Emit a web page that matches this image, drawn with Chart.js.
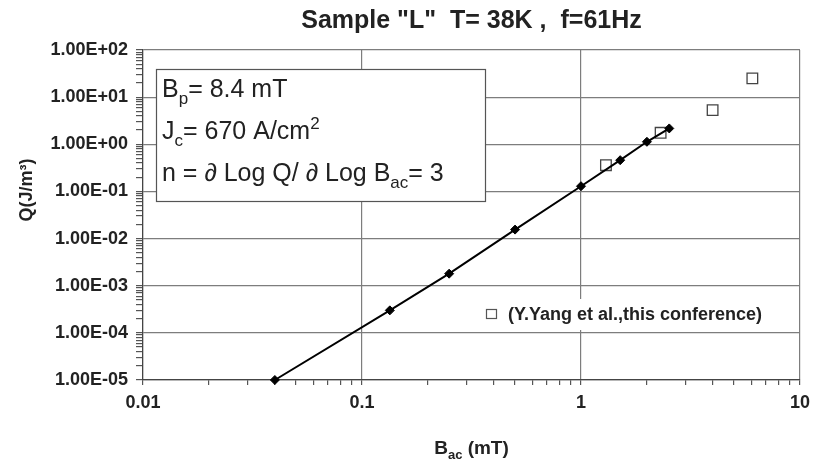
<!DOCTYPE html>
<html>
<head>
<meta charset="utf-8">
<script src="https://cdn.jsdelivr.net/npm/chart.js"></script>
<style>
  body { margin: 0; background: #fff; }
</style>
</head>
<body>
<canvas id="qChart" width="817" height="468"></canvas>
<script>
// measured loss Q vs B_ac (diamonds, joined)
const bacMeasured = [0.04, 0.134, 0.25, 0.5, 1.0, 1.51, 2.0, 2.53];
const qMeasured = [1.0e-5, 3.0e-4, 1.8e-3, 1.55e-2, 0.129, 0.46, 1.13, 2.17];

// Y.Yang et al. (open squares)
const bacYang = [1.3, 2.31, 3.99, 6.06];
const qYang = [0.36, 1.75, 5.3, 25];

const xDecades = [0.01, 0.1, 1, 10];
const xTickLabels = ['0.01', '0.1', '1', '10'];
const yDecades = [1e-5, 1e-4, 1e-3, 1e-2, 1e-1, 1, 10, 100];
const yTickLabels = ['1.00E-05', '1.00E-04', '1.00E-03', '1.00E-02', '1.00E-01', '1.00E+00', '1.00E+01', '1.00E+02'];

const FONT = "'Liberation Sans', Arial, sans-serif";
const TXT = '#222';

function decadeIndex(decades, v) {
  return decades.findIndex(d => Math.abs(Math.log10(v) - Math.log10(d)) < 1e-6);
}

// 1..9 x each decade as ticks
function logTicks(decades) {
  const out = [];
  decades.forEach((d, i) => {
    out.push({ value: d });
    if (i < decades.length - 1) {
      for (let m = 2; m <= 9; m++) out.push({ value: +(d * m).toPrecision(6) });
    }
  });
  return out;
}

// text with sub / superscripts
function drawRich(ctx, x, y, parts, size, weight) {
  parts.forEach(([t, mode]) => {
    let s = size, dy = 0;
    if (mode === 'sub') { s = Math.round(size * 0.68); dy = size * 0.28; }
    if (mode === 'sup') { s = Math.round(size * 0.68); dy = -size * 0.42; }
    ctx.font = weight + ' ' + s + 'px ' + FONT;
    ctx.fillText(t, x, y + dy);
    x += ctx.measureText(t).width;
  });
}
function richWidth(ctx, parts, size, weight) {
  let w = 0;
  parts.forEach(([t, mode]) => {
    const s = mode ? Math.round(size * 0.68) : size;
    ctx.font = weight + ' ' + s + 'px ' + FONT;
    w += ctx.measureText(t).width;
  });
  return w;
}

const extras = {
  id: 'extras',
  afterDatasetsDraw(chart) {
    const ctx = chart.ctx;
    const area = chart.chartArea;
    ctx.save();
    ctx.fillStyle = TXT;
    ctx.textBaseline = 'alphabetic';
    ctx.textAlign = 'left';

    // parameter box
    ctx.fillStyle = '#fff';
    ctx.fillRect(156, 69, 330, 133);
    ctx.strokeStyle = '#555';
    ctx.lineWidth = 1.2;
    ctx.strokeRect(156.5, 69.5, 329, 132);
    ctx.fillStyle = TXT;
    drawRich(ctx, 162, 97, [['B', ''], ['p', 'sub'], ['= 8.4 mT', '']], 25, 'normal');
    drawRich(ctx, 162, 139, [['J', ''], ['c', 'sub'], ['= 670 A/cm', ''], ['2', 'sup']], 25, 'normal');
    drawRich(ctx, 162, 181, [['n = \u2202 Log Q/ \u2202 Log B', ''], ['ac', 'sub'], ['= 3', '']], 25, 'normal');

    // legend for the squares
    ctx.fillStyle = '#fff';
    ctx.fillRect(478, 299, 306, 31);
    ctx.strokeStyle = '#555';
    ctx.lineWidth = 1.2;
    ctx.strokeRect(486.5, 309.5, 10, 9);
    ctx.fillStyle = TXT;
    ctx.font = 'bold 18px ' + FONT;
    ctx.textBaseline = 'middle';
    ctx.fillText(chart.data.datasets[1].label, 508, 315);

    // x axis title with subscript
    ctx.textBaseline = 'alphabetic';
    const xt = [['B', ''], ['ac', 'sub'], [' (mT)', '']];
    const w = richWidth(ctx, xt, 19, 'bold');
    drawRich(ctx, (area.left + area.right) / 2 - w / 2, 454, xt, 19, 'bold');

    // y axis title
    ctx.translate(27, 190);
    ctx.rotate(-Math.PI / 2);
    ctx.textAlign = 'center';
    ctx.textBaseline = 'middle';
    ctx.font = 'bold 18px ' + FONT;
    ctx.fillText('Q(J/m\u00b3)', 0, 0);
    ctx.restore();
  }
};

const gridColor = c => decadeIndex(c.scale.axis === 'x' ? xDecades : yDecades, c.tick.value) >= 0 ? '#7d7d7d' : 'rgba(0,0,0,0)';

new Chart(document.getElementById('qChart'), {
  type: 'scatter',
  data: {
    datasets: [
      {
        label: 'measured',
        data: bacMeasured.map((b, i) => ({ x: b, y: qMeasured[i] })),
        showLine: true,
        borderColor: '#000',
        borderWidth: 2,
        backgroundColor: '#000',
        pointStyle: 'rectRot',
        pointRadius: 4.5,
        pointBorderWidth: 1,
        clip: 12
      },
      {
        label: '(Y.Yang et al.,this conference)',
        data: bacYang.map((b, i) => ({ x: b, y: qYang[i] })),
        showLine: false,
        borderColor: '#444',
        backgroundColor: 'rgba(0,0,0,0)',
        pointStyle: 'rect',
        pointRadius: 7.5,
        pointBorderWidth: 1.3,
        clip: 12
      }
    ]
  },
  options: {
    responsive: false,
    animation: false,
    layout: { padding: { left: 0, right: 17, top: 0, bottom: 0 } },
    plugins: {
      legend: { display: false },
      tooltip: { enabled: false },
      title: {
        display: true,
        fullSize: false,
        text: 'Sample "L"  T= 38K ,  f=61Hz',
        color: TXT,
        font: { family: FONT, size: 25, weight: 'bold', lineHeight: 1.2 },
        padding: { top: 6, bottom: 14 }
      }
    },
    scales: {
      x: {
        type: 'logarithmic',
        min: 0.01,
        max: 10,
        afterBuildTicks: s => { s.ticks = logTicks(xDecades); },
        afterFit: s => { s.height = 88; },
        ticks: {
          autoSkip: false,
          maxRotation: 0,
          padding: 7,
          color: TXT,
          font: { family: FONT, size: 18, weight: 'bold' },
          callback: v => { const i = decadeIndex(xDecades, v); return i >= 0 ? xTickLabels[i] : ''; }
        },
        grid: { color: gridColor, lineWidth: 1.2, tickColor: '#555', tickLength: 5 },
        border: { color: '#444', width: 1.2 }
      },
      y: {
        type: 'logarithmic',
        min: 1e-5,
        max: 100,
        afterBuildTicks: s => { s.ticks = logTicks(yDecades); },
        afterFit: s => { s.width = 143; },
        ticks: {
          autoSkip: false,
          padding: 8,
          color: TXT,
          font: { family: FONT, size: 18, weight: 'bold' },
          callback: v => { const i = decadeIndex(yDecades, v); return i >= 0 ? yTickLabels[i] : ''; }
        },
        grid: { color: gridColor, lineWidth: 1.2, tickColor: '#555', tickLength: 7 },
        border: { color: '#444', width: 1.2 }
      }
    }
  },
  plugins: [extras]
});
</script>
</body>
</html>
